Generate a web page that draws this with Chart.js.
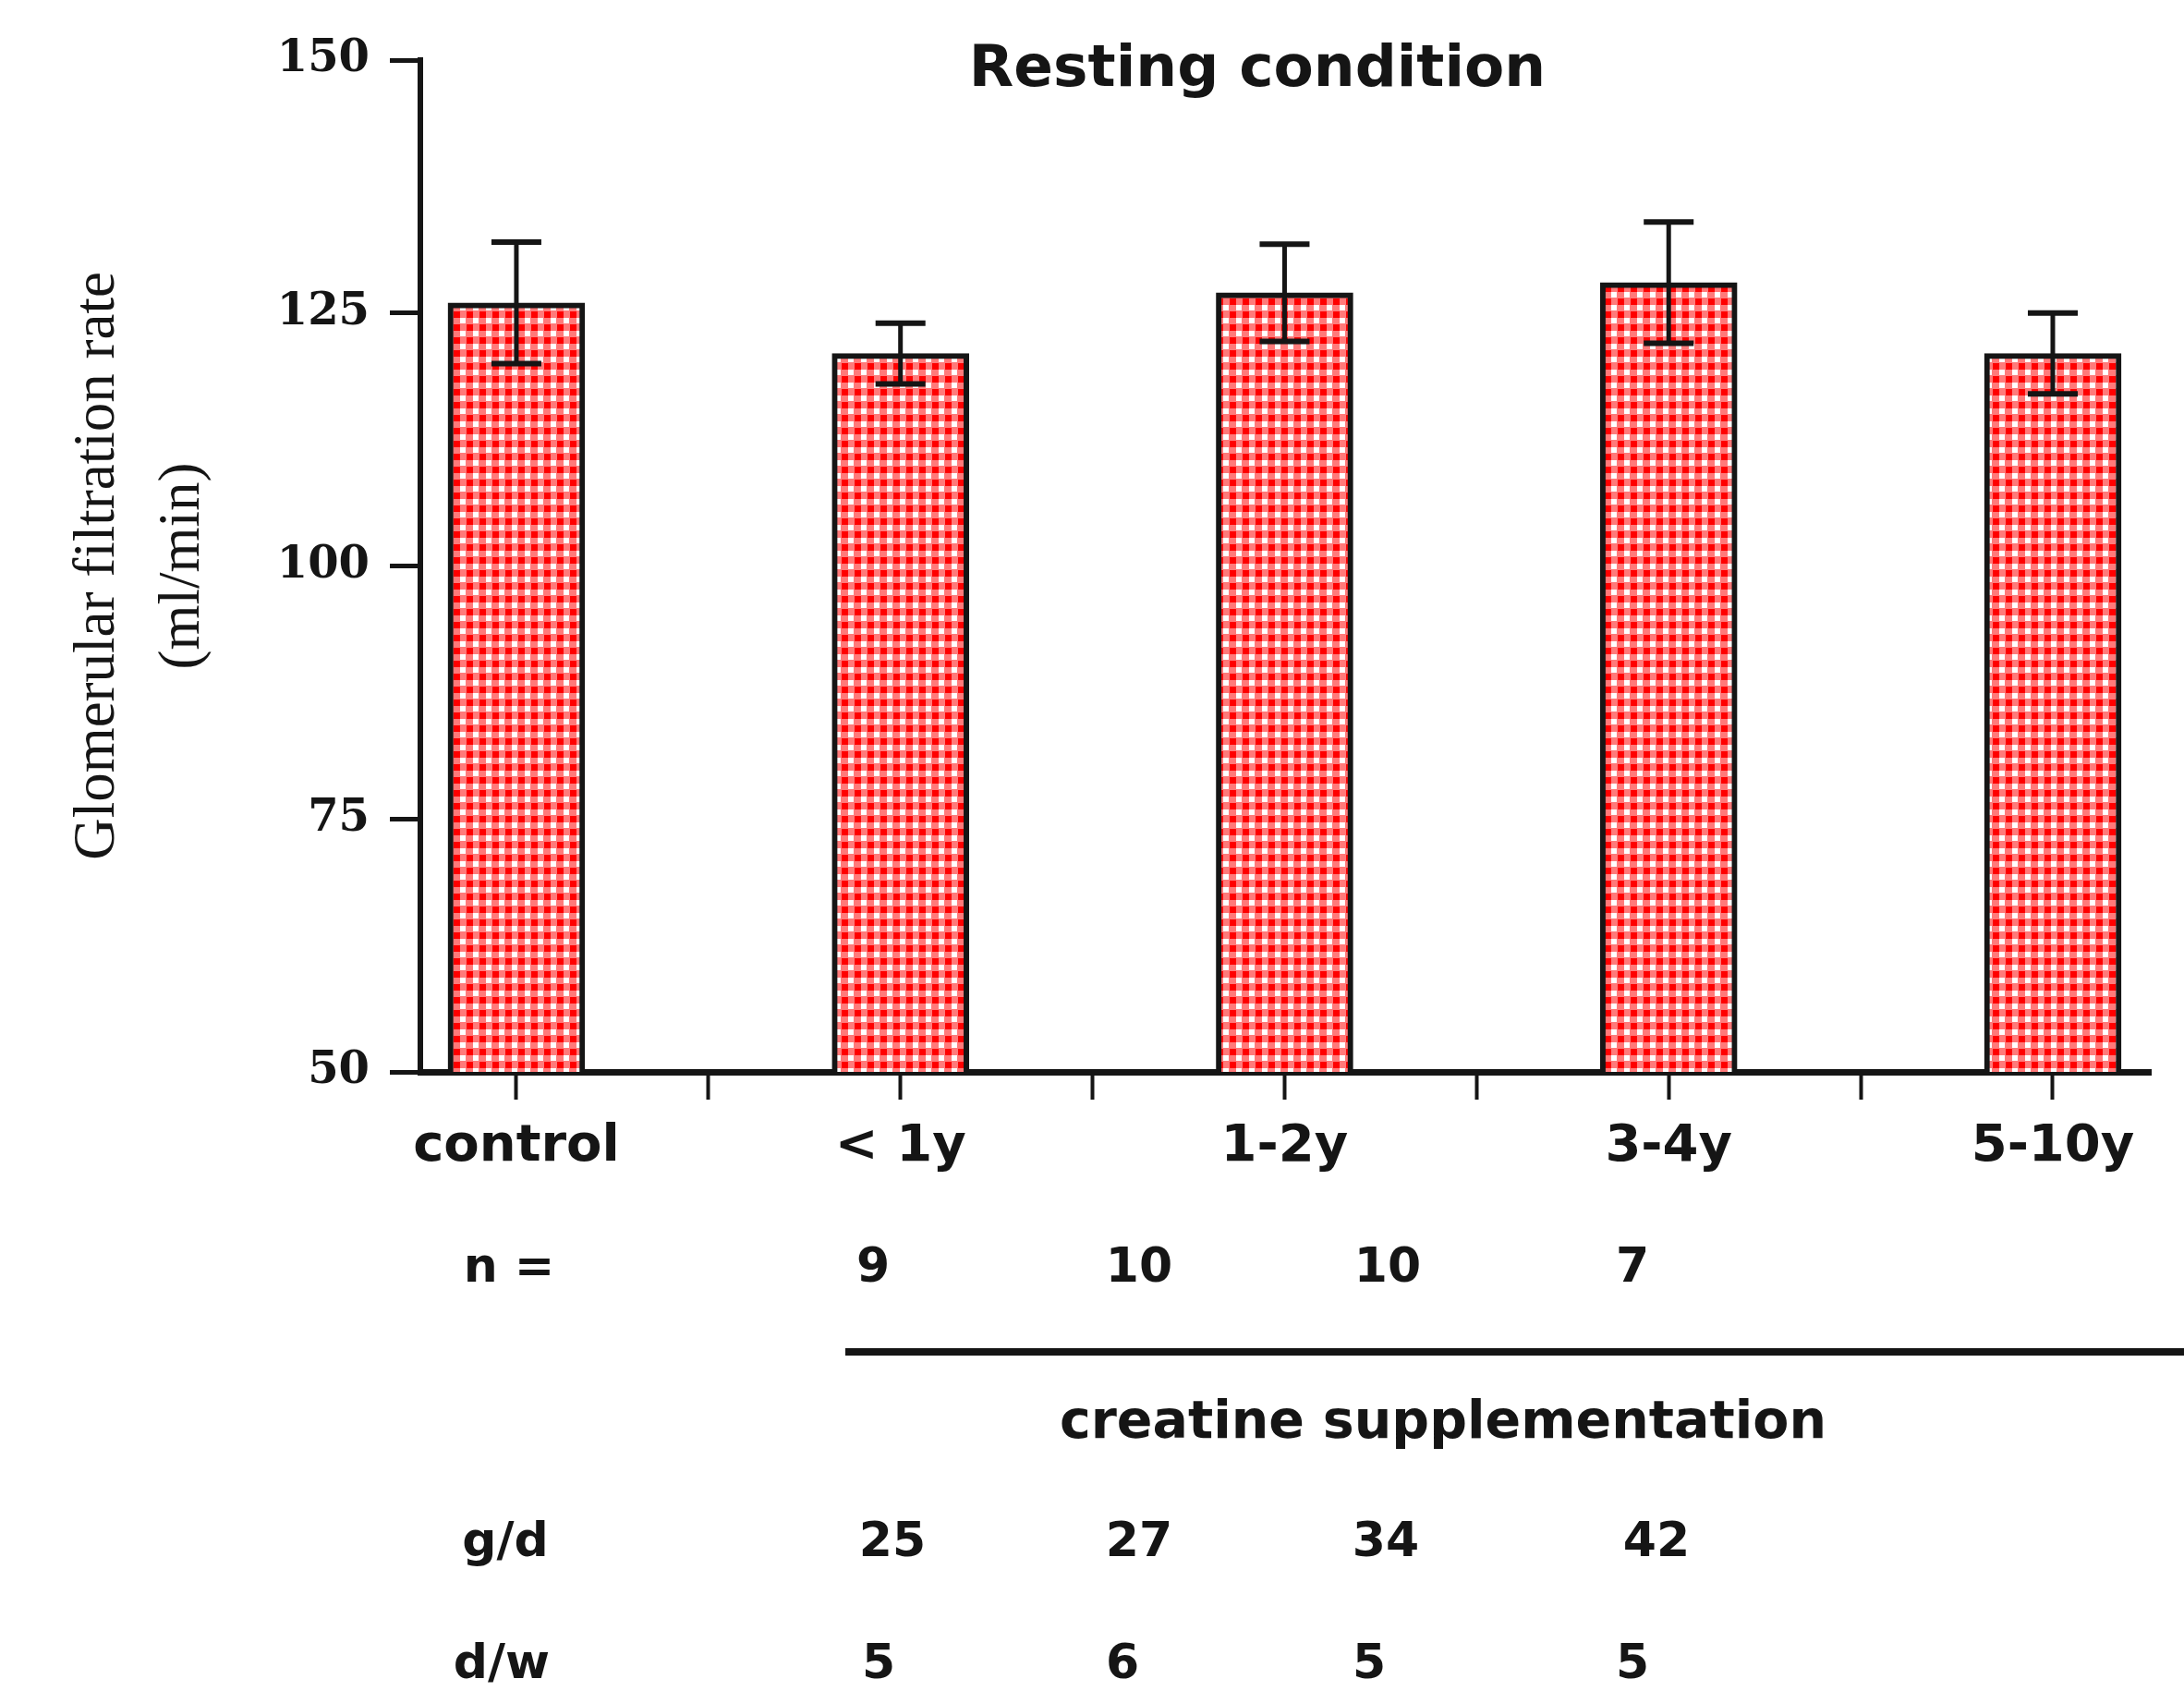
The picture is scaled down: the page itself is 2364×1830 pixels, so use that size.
<!DOCTYPE html>
<html><head><meta charset="utf-8">
<script src="https://cdn.jsdelivr.net/npm/chart.js@4.4.1/dist/chart.umd.min.js"></script>
<style>html,body{margin:0;padding:0;background:#fff;} #wrap{width:2364px;height:1830px;}</style>
</head><body><div id="wrap"><canvas id="c" width="2364" height="1830"></canvas></div>
<script>
// ---- data ----
const categories = ['control', '< 1y', '1-2y', '3-4y', '5-10y'];
const gfrMean = [126, 121, 127, 128, 121];
const gfrSD = [6, 3, 4.8, 6, 4];
const yTicks = [50, 75, 100, 125, 150];
const nValues = ['9', '10', '10', '7'];
const gramsPerDay = ['25', '27', '34', '42'];
const daysPerWeek = ['5', '6', '5', '5'];

// ---- layout / style ----
const SANS = '"DejaVu Sans", sans-serif';
const INK = '#151515';

function makeGingham() {
  const s = 14, h = 7;
  const c = document.createElement('canvas'); c.width = s; c.height = s;
  const g = c.getContext('2d');
  g.fillStyle = '#ffffff'; g.fillRect(0, 0, s, s);
  g.fillStyle = '#ff7a7a'; g.fillRect(0, 0, h + 1, s); g.fillRect(0, 0, s, h + 1);
  g.fillStyle = '#ff0000'; g.fillRect(1, 1, h, h);
  return g.createPattern(c, 'repeat');
}

const errorBars = {
  id: 'errorBars',
  afterDatasetsDraw(chart) {
    const { ctx, scales: { x, y } } = chart;
    ctx.save();
    ctx.strokeStyle = INK;
    gfrMean.forEach((m, i) => {
      const px = x.getPixelForValue(i);
      const top = y.getPixelForValue(m + gfrSD[i]);
      const bot = y.getPixelForValue(m - gfrSD[i]);
      ctx.lineWidth = 5;
      ctx.beginPath(); ctx.moveTo(px, top); ctx.lineTo(px, bot); ctx.stroke();
      ctx.lineWidth = 6;
      ctx.beginPath();
      ctx.moveTo(px - 27, top); ctx.lineTo(px + 27, top);
      ctx.moveTo(px - 27, bot); ctx.lineTo(px + 27, bot);
      ctx.stroke();
    });
    ctx.restore();
  }
};

const annotations = {
  id: 'annotations',
  afterDraw(chart) {
    const ctx = chart.ctx;
    ctx.save();
    ctx.fillStyle = INK;
    ctx.textAlign = 'center';
    ctx.textBaseline = 'alphabetic';
    ctx.font = 'bold 63px ' + SANS;
    ctx.fillText('Resting condition', 1361, 93);

    ctx.font = 'bold 52px ' + SANS;
    ctx.textBaseline = 'middle';
    const rows = [
      { label: 'n =', lx: 551, y: 1373, vals: nValues, xs: [945, 1233, 1502, 1767] },
      { label: 'g/d', lx: 547, y: 1670, vals: gramsPerDay, xs: [966, 1233, 1500, 1793] },
      { label: 'd/w', lx: 543, y: 1802, vals: daysPerWeek, xs: [951, 1215, 1482, 1767] }
    ];
    rows.forEach(r => {
      ctx.fillText(r.label, r.lx, r.y);
      r.vals.forEach((v, i) => ctx.fillText(v, r.xs[i], r.y));
    });
    ctx.font = 'bold 57px ' + SANS;
    ctx.fillText('creatine supplementation', 1562, 1541);

    ctx.strokeStyle = INK;
    ctx.lineWidth = 8;
    ctx.beginPath(); ctx.moveTo(915, 1463); ctx.lineTo(2364, 1463); ctx.stroke();
    ctx.restore();
  }
};

new Chart(document.getElementById('c'), {
  type: 'bar',
  data: {
    datasets: [{
      data: gfrMean.map((v, i) => ({ x: i, y: v })),
      backgroundColor: makeGingham(),
      borderColor: INK,
      borderWidth: 6,
      borderSkipped: 'bottom',
      barThickness: 148
    }]
  },
  options: {
    responsive: false,
    devicePixelRatio: 1,
    animation: false,
    layout: { padding: { left: 0, top: 65, right: 36, bottom: 540 } },
    plugins: { legend: { display: false }, tooltip: { enabled: false }, title: { display: false } },
    scales: {
      x: {
        type: 'linear',
        min: -0.25,
        max: 4.255,
        offset: false,
        bounds: 'data',
        afterFit(s) { s.height = 130; },
        afterBuildTicks(s) { s.ticks = [0, 0.5, 1, 1.5, 2, 2.5, 3, 3.5, 4].map(v => ({ value: v })); },
        grid: { display: true, drawOnChartArea: false, drawTicks: true, tickLength: 30, tickWidth: 4, tickColor: INK, offset: false },
        border: { display: true, width: 7, color: INK },
        ticks: {
          autoSkip: false,
          maxRotation: 0,
          padding: 18,
          color: INK,
          font: { family: SANS, weight: 'bold', size: 56 },
          callback: v => Number.isInteger(v) ? categories[v] : ''
        }
      },
      y: {
        type: 'linear',
        min: 50,
        max: 150,
        afterFit(s) { s.width = 455; },
        afterBuildTicks(s) { s.ticks = yTicks.map(v => ({ value: v })); },
        grid: { display: true, drawOnChartArea: false, drawTicks: true, tickLength: 33, tickWidth: 5, tickColor: INK },
        border: { display: true, width: 6, color: INK },
        ticks: {
          padding: 22,
          color: INK,
          font: { family: '"DejaVu Serif", serif', weight: 'bold', size: 48 }
        },
        title: {
          display: true,
          text: ['Glomerular filtration rate', '(ml/min)'],
          color: INK,
          padding: { top: 61, bottom: 0 },
          font: { family: '"Liberation Serif", "Times New Roman", serif', size: 63, lineHeight: 1.45 }
        }
      }
    }
  },
  plugins: [errorBars, annotations]
});
</script>
</body></html>
